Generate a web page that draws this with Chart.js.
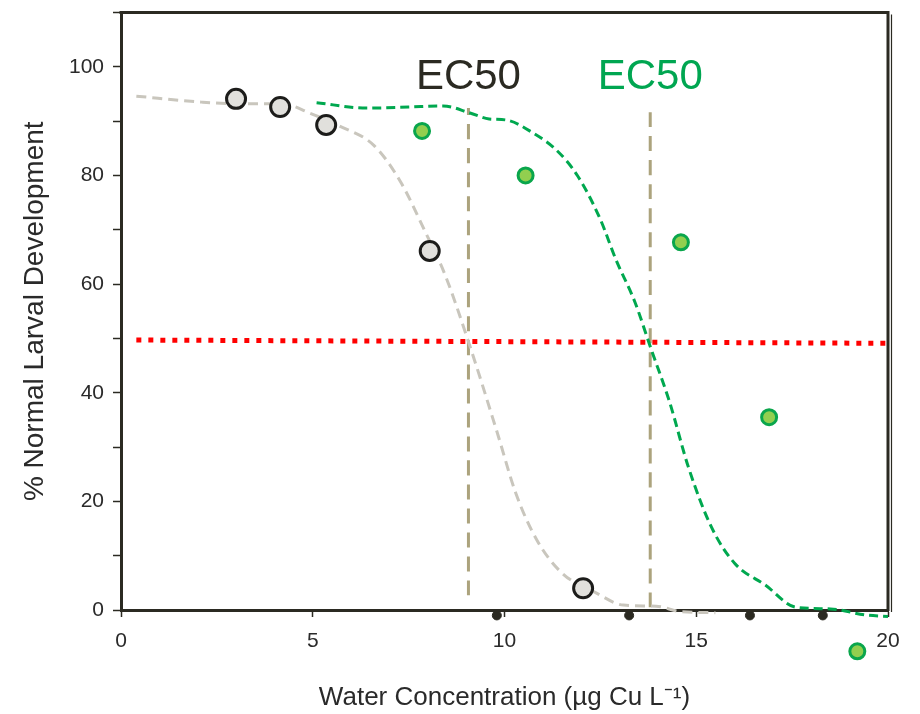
<!DOCTYPE html>
<html>
<head>
<meta charset="utf-8">
<script src="https://cdn.jsdelivr.net/npm/chart.js@4.4.1/dist/chart.umd.min.js"></script>
<style>
  html, body { margin: 0; padding: 0; background: #fff; }
  #wrap { width: 920px; height: 714px; }
</style>
</head>
<body>
<div id="wrap"><canvas id="chart" width="920" height="714"></canvas></div>
<script>
// ---- DATOS ----
var X_TICKS = [0, 5, 10, 15, 20];
var Y_LABELS = [0, 20, 40, 60, 80, 100];

// puntos observados (gris = control, verde = tratamiento)
var GRAY_X  = [3.0, 4.15, 5.35, 8.05, 12.05];
var GRAY_Y  = [94.1, 92.6, 89.3, 66.1, 4.0];
var GREEN_X = [7.85, 10.55, 14.6, 16.9, 19.2];
var GREEN_Y = [88.2, 80.0, 67.7, 35.5, -7.6];

// puntos tapados por el eje
var HIDDEN_X = [9.8, 13.25, 16.4, 18.3];
var HIDDEN_Y = [-1, -1, -1, -1];

// curvas ajustadas
var GRAY_FIT_X  = [0.4, 2.1, 3.0, 4.2, 4.95, 5.7, 6.6, 7.3, 7.9, 8.45, 9.06, 9.8, 10.3, 10.85, 11.5, 12.4, 13.1, 13.95, 14.6, 15.5];
var GRAY_FIT_Y  = [94.6, 93.5, 93.2, 93.2, 91.4, 89.1, 85.5, 78.7, 70.1, 61.7, 49.4, 32.9, 21.4, 12.8, 6.8, 3.1, 0.9, 0.7, -0.3, -0.5];
var GREEN_FIT_X = [5.1, 6.4, 7.5, 8.4, 9.1, 9.6, 10.05, 10.75, 11.35, 11.9, 12.5, 12.9, 13.4, 13.82, 14.3, 14.8, 15.4, 16.0, 16.8, 17.6, 18.5, 19.4, 20];
var GREEN_FIT_Y = [93.4, 92.4, 92.6, 92.8, 91.5, 90.4, 90.2, 87.8, 84.7, 80.0, 71.9, 64.6, 56.7, 48.1, 38.4, 26.2, 15.2, 8.6, 4.6, 0.5, 0.2, -0.9, -1.2];

// linea del 50%
var HALF_X = [0.4, 20];
var HALF_Y = [49.7, 49.1];

// EC50
var EC50_X      = [9.06, 13.8];
var EC50_TOP    = [92.4, 91.9];
var EC50_BOTTOM = [2.7, 0.5];
var EC50_TEXT   = ["EC50", "EC50"];
var EC50_LABEL_Y = 98;

// ---- HELPERS ----
var INK   = "#2b2a22";
var GREEN = "#00a651";
var FONT  = "'Liberation Sans', Arial, sans-serif";
var GREEN_SET = 7;

function pts(xs, ys) {
  return xs.map(function(x, i) { return { x: x, y: ys[i] }; });
}

function lineSet(data, color, width, dash, order) {
  return {
    data: data, showLine: true, borderColor: color, borderWidth: width,
    borderDash: dash, pointRadius: 0, fill: false, clip: false,
    cubicInterpolationMode: "monotone", order: order
  };
}

// marco superior y derecho, punto fuera del area, rotulos EC50
var extras = {
  id: "extras",
  afterDatasetsDraw: function(chart) {
    var ctx = chart.ctx, a = chart.chartArea;
    // Chart.js no dibuja puntos fuera del area: el ultimo verde queda debajo del eje
    chart.getDatasetMeta(GREEN_SET).data.forEach(function(el) {
      if (el.y > a.bottom + 10) el.draw(ctx);
    });
  },
  afterDraw: function(chart) {
    var ctx = chart.ctx, a = chart.chartArea;
    var sx = chart.scales.x, sy = chart.scales.y;
    ctx.save();
    ctx.strokeStyle = INK;
    ctx.lineWidth = 3;
    ctx.beginPath();
    ctx.moveTo(a.left - 1.5, a.top);
    ctx.lineTo(a.right, a.top);
    ctx.lineTo(a.right, a.bottom + 1);
    ctx.stroke();
    ctx.lineWidth = 1.2;
    ctx.beginPath();
    ctx.moveTo(a.right + 3.5, a.top + 2);
    ctx.lineTo(a.right + 3.5, a.bottom + 2);
    ctx.stroke();

    ctx.font = "42px " + FONT;
    ctx.textAlign = "center";
    ctx.textBaseline = "middle";
    EC50_X.forEach(function(x, i) {
      ctx.fillStyle = i === 0 ? INK : GREEN;
      ctx.fillText(EC50_TEXT[i], sx.getPixelForValue(x), sy.getPixelForValue(EC50_LABEL_Y));
    });
    ctx.restore();
  }
};

// ---- CHART ----
var datasets = [
  lineSet(pts(HALF_X, HALF_Y), "#ff0000", 5, [5, 7], 5),
  lineSet(pts([EC50_X[0], EC50_X[0]], [EC50_BOTTOM[0], EC50_TOP[0]]), "#aca37d", 3, [15, 9], 6),
  lineSet(pts([EC50_X[1], EC50_X[1]], [EC50_BOTTOM[1], EC50_TOP[1]]), "#aca37d", 3, [15, 9], 6),
  lineSet(pts(GRAY_FIT_X, GRAY_FIT_Y), "#c9c6bd", 3, [10, 6], 4),
  lineSet(pts(GREEN_FIT_X, GREEN_FIT_Y), "#00a84f", 3, [9, 5], 4),
  {
    data: pts(HIDDEN_X, HIDDEN_Y), pointRadius: 4.5, pointBorderWidth: 1,
    pointBackgroundColor: INK, pointBorderColor: INK, clip: false, order: 7
  },
  {
    data: pts(GRAY_X, GRAY_Y), pointRadius: 9.5, pointBorderWidth: 3,
    pointBackgroundColor: "#e1e0dc", pointBorderColor: "#1c1c1a", clip: false, order: 1
  },
  {
    data: pts(GREEN_X, GREEN_Y), pointRadius: 7.5, pointBorderWidth: 3,
    pointBackgroundColor: "#92cf4f", pointBorderColor: "#0aa64c", clip: false, order: 1
  }
];

new Chart(document.getElementById("chart"), {
  type: "scatter",
  data: { datasets: datasets },
  plugins: [extras],
  options: {
    responsive: false,
    animation: false,
    layout: { padding: { top: 9, right: 32, left: 0, bottom: 0 } },
    plugins: { legend: { display: false }, tooltip: { enabled: false } },
    scales: {
      x: {
        type: "linear", min: 0, max: 20, z: 1,
        afterFit: function(s) { s.height = 104; s.paddingLeft = 0; s.paddingRight = 0; },
        afterBuildTicks: function(s) { s.ticks = X_TICKS.map(function(v) { return { value: v }; }); },
        border: { color: INK, width: 3 },
        grid: { drawOnChartArea: false, drawTicks: true, tickLength: 7, tickColor: INK, tickWidth: 1.5 },
        ticks: { color: "#2a2a2a", font: { size: 21, family: FONT }, padding: 12, maxRotation: 0 },
        title: {
          display: true, text: "Water Concentration (\u00b5g Cu L\u207b\u00b9)",
          color: "#2a2a2a", font: { size: 26, family: FONT }, padding: { bottom: 1 }
        }
      },
      y: {
        type: "linear", min: 0, max: 110, z: 1,
        afterFit: function(s) { s.width = 121; s.paddingTop = 0; s.paddingBottom = 0; },
        border: { color: INK, width: 3 },
        grid: { drawOnChartArea: false, drawTicks: true, tickLength: 8, tickColor: INK, tickWidth: 1.5 },
        ticks: {
          stepSize: 10, color: "#2a2a2a", font: { size: 21, family: FONT }, padding: 9,
          callback: function(v) { return Y_LABELS.indexOf(v) >= 0 ? String(v) : ""; }
        },
        title: {
          display: true, text: "% Normal Larval Development",
          color: "#2a2a2a", font: { size: 28, family: FONT }, padding: { top: 18 }
        }
      }
    }
  }
});
</script>
</body>
</html>
